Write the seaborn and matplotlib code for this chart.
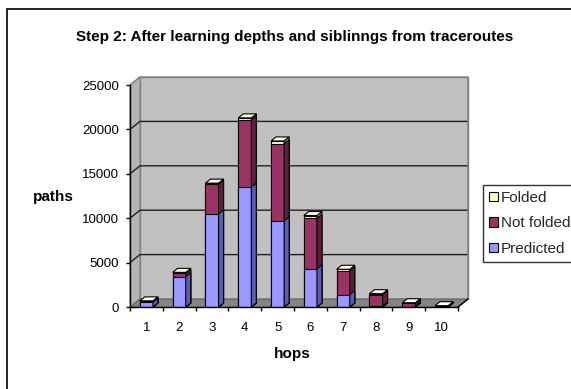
import numpy as np
import pandas as pd
import matplotlib
matplotlib.use("Agg")
import matplotlib.pyplot as plt
import seaborn as sns
from matplotlib.patches import Polygon, Patch, Rectangle
from matplotlib.lines import Line2D
from matplotlib.transforms import IdentityTransform

# ---- data -------------------------------------------------------------
hops = ["1", "2", "3", "4", "5", "6", "7", "8", "9", "10"]
predicted = [550, 3400, 10500, 13500, 9700, 4300, 1400, 100, 50, 0]
not_folded = [80, 400, 3300, 7600, 8700, 5700, 2700, 1300, 350, 50]
folded = [60, 100, 150, 200, 300, 300, 150, 100, 80, 100]
y_ticks = [0, 5000, 10000, 15000, 20000, 25000]

series_names = ["Folded", "Not folded", "Predicted"]
front_colors = {"Predicted": "#9999FF", "Not folded": "#993366", "Folded": "#FFFFCC"}
side_colors = {"Predicted": "#5C5CB8", "Not folded": "#5E1F3F", "Folded": "#B5B58F"}
top_colors = {"Predicted": "#C2C2FF", "Not folded": "#C77A9E", "Folded": "#FFFFE8"}

df = pd.DataFrame({"hop": hops, "Predicted": predicted,
                   "Not folded": not_folded, "Folded": folded})
df["cum_pred"] = df["Predicted"]
df["cum_notf"] = df["cum_pred"] + df["Not folded"]
df["cum_fold"] = df["cum_notf"] + df["Folded"]

# ---- figure -----------------------------------------------------------
sns.set_theme(style="white")
plt.rcParams["font.family"] = ["Liberation Sans", "DejaVu Sans"]

W, H = 571, 389
fig = plt.figure(figsize=(W / 100, H / 100), dpi=100)
fig.patch.set_facecolor("white")
ax = fig.add_axes([130 / W, 82 / H, 328 / W, 222 / H])
ax.set_facecolor("none")

BAR_W = 0.4
# stacked columns: tallest cumulative layer first, shorter ones on top of it
layers = [("cum_fold", "Folded", 3), ("cum_notf", "Not folded", 4), ("cum_pred", "Predicted", 5)]
layer_patches = []
for col, name, z in layers:
    n0 = len(ax.patches)
    sns.barplot(data=df, x="hop", y=col, order=hops, color=front_colors[name],
                saturation=1, width=BAR_W, edgecolor="black", linewidth=0.8,
                zorder=z, ax=ax)
    layer_patches.append((name, z, ax.patches[n0:]))

ax.set_xlim(-0.5, len(hops) - 0.5)
ax.set_ylim(y_ticks[0], y_ticks[-1])

# ---- pseudo-3D walls & floor (display pixels) -------------------------
WDX, WDY = 10, 8       # depth of the plot box
BDX, BDY = 5, 4        # depth of each column
tD = ax.transData
idt = IdentityTransform()
x0, x1 = ax.get_xlim()
(fx0, fy0) = tD.transform((x0, 0))
(fx1, fy1) = tD.transform((x1, y_ticks[-1]))

def poly(pts, fc, ec="none", lw=0.8, z=1):
    p = Polygon(pts, closed=True, facecolor=fc, edgecolor=ec, linewidth=lw,
                transform=idt, clip_on=False, zorder=z)
    ax.add_artist(p)
    return p

# back wall
poly([(fx0 + WDX, fy0 + WDY), (fx1 + WDX, fy0 + WDY),
      (fx1 + WDX, fy1 + WDY), (fx0 + WDX, fy1 + WDY)], "#C0C0C0", "#808080", 1.0, 0.5)
# left wall
poly([(fx0, fy0), (fx0 + WDX, fy0 + WDY), (fx0 + WDX, fy1 + WDY), (fx0, fy1)],
     "#B4B4B4", "#808080", 0.8, 0.5)
# floor
poly([(fx0, fy0), (fx1, fy0), (fx1 + WDX, fy0 + WDY), (fx0 + WDX, fy0 + WDY)],
     "#858585", "#606060", 0.8, 0.7)

# gridlines on the walls
for v in y_ticks[1:-1]:
    _, gy = tD.transform((x0, v))
    ax.add_artist(Line2D([fx0, fx0 + WDX, fx1 + WDX], [gy, gy + WDY, gy + WDY],
                         color="#202020", linewidth=1.0, transform=idt,
                         clip_on=False, zorder=0.6))
_, gtop = tD.transform((x0, y_ticks[-1]))
ax.add_artist(Line2D([fx0, fx0 + WDX, fx1 + WDX, fx1 + WDX],
                     [gtop, gtop + WDY, gtop + WDY, fy0 + WDY],
                     color="#808080", linewidth=1.0, transform=idt,
                     clip_on=False, zorder=0.6))
# right end of the floor edge
ax.add_artist(Line2D([fx1, fx1 + WDX], [fy0, fy0 + WDY], color="black",
                     linewidth=1.0, transform=idt, clip_on=False, zorder=0.8))

# ---- column side and top faces ---------------------------------------
for name, z, patches in layer_patches:
    for p in patches:
        bx, by = p.get_x(), p.get_y()
        bw, bh = p.get_width(), p.get_height()
        if bh <= 0:
            continue
        (lx, ly) = tD.transform((bx, by))
        (rx, ry) = tD.transform((bx + bw, by + bh))
        poly([(rx, ly), (rx + BDX, ly + BDY), (rx + BDX, ry + BDY), (rx, ry)],
             side_colors[name], "black", 0.8, z)
        if name == "Folded":
            poly([(lx, ry), (rx, ry), (rx + BDX, ry + BDY), (lx + BDX, ry + BDY)],
                 top_colors[name], "black", 0.8, z)

# ---- axes styling -----------------------------------------------------
for s in ["top", "right"]:
    ax.spines[s].set_visible(False)
for s in ["left", "bottom"]:
    ax.spines[s].set_color("black")
    ax.spines[s].set_linewidth(1.0)
    ax.spines[s].set_zorder(6)

ax.set_yticks(y_ticks)
ax.set_yticklabels([str(v) for v in y_ticks])
ax.tick_params(axis="y", which="major", direction="out", length=3, width=1,
               color="black", pad=5, labelsize=9.5, labelcolor="black", left=True)

ax.set_xticks(np.arange(-0.5, len(hops), 1.0))
ax.set_xticklabels([""] * (len(hops) + 1))
ax.set_xticks(np.arange(len(hops)), minor=True)
ax.set_xticklabels(hops, minor=True)
ax.tick_params(axis="x", which="major", direction="out", length=3, width=1,
               color="black", bottom=True)
ax.tick_params(axis="x", which="minor", length=0, pad=11, labelsize=9.5,
               labelcolor="black", bottom=True)
ax.set_xlabel("")
ax.set_ylabel("")
ax.grid(False)

# ---- texts ------------------------------------------------------------
fig.text(295 / W, 1 - 37 / H, "Step 2: After learning depths and siblinngs from traceroutes",
         ha="center", va="center", fontsize=11, fontweight="bold", color="black")
fig.text(53 / W, 1 - 197 / H, "paths", ha="center", va="center",
         fontsize=11, fontweight="bold", color="black")
fig.text(292 / W, 1 - 354 / H, "hops", ha="center", va="center",
         fontsize=11, fontweight="bold", color="black")

# ---- legend -----------------------------------------------------------
handles = [Patch(facecolor=front_colors[n], edgecolor="black", linewidth=0.8, label=n)
           for n in series_names]
leg = fig.legend(handles=handles, loc="upper left",
                 bbox_to_anchor=(483 / W, 1 - 185 / H), fontsize=11,
                 frameon=True, fancybox=False, edgecolor="black",
                 handlelength=0.6, handleheight=0.6, handletextpad=0.2,
                 labelspacing=0.76, borderpad=0.38, borderaxespad=0)
leg.get_frame().set_linewidth(1.0)

# outer chart border (extends past the right and bottom edges)
fig.patches.append(Rectangle((7 / W, -0.05), 1.1, 1 - 9 / H + 0.05,
                             transform=fig.transFigure, fill=False,
                             edgecolor="black", linewidth=1.2))

fig.savefig("out.png", dpi=100)
